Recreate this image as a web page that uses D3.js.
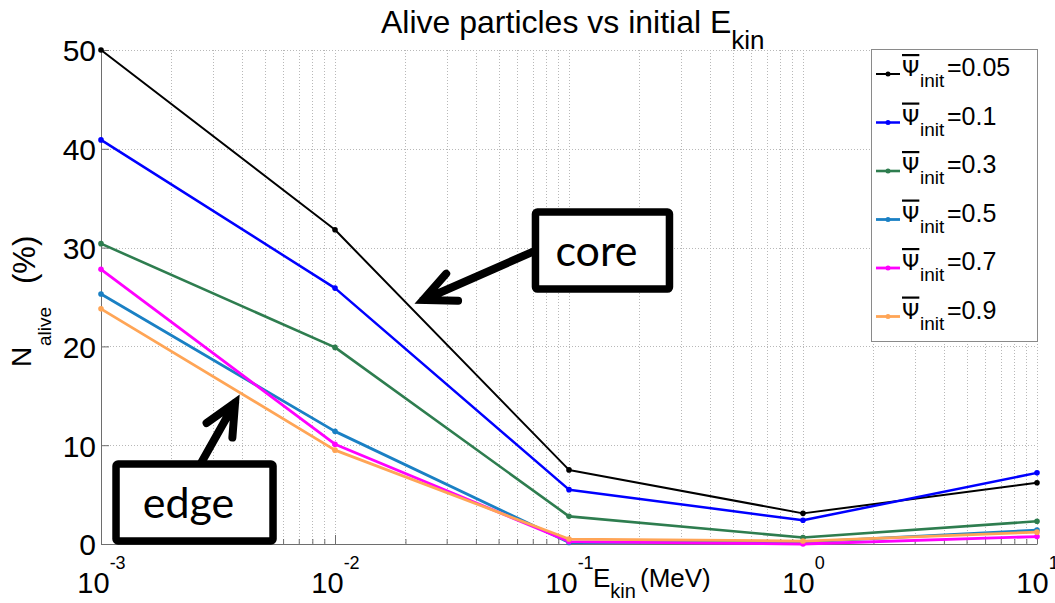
<!DOCTYPE html>
<html>
<head>
<meta charset="utf-8">
<script src="https://cdn.jsdelivr.net/npm/d3@7"></script>
<style>
  html, body { margin: 0; padding: 0; background: #fff; }
  svg { display: block; font-family: "Liberation Sans", Arial, Helvetica, sans-serif; }
</style>
</head>
<body>
<svg id="chart" width="1055" height="603"></svg>
<script>
// ---------- data ----------
const energies = [1e-3, 1e-2, 1e-1, 1, 10];            // E_kin (MeV)
const psiLabels = ["0.05", "0.1", "0.3", "0.5", "0.7", "0.9"];
const psi005 = [50.0, 31.8, 7.5, 3.1, 6.2];
const psi01  = [40.9, 25.9, 5.5, 2.4, 7.2];
const psi03  = [30.4, 19.9, 2.8, 0.65, 2.3];
const psi05  = [25.3, 11.4, 0.15, 0.2, 1.4];
const psi07  = [27.8, 10.1, 0.25, 0.0, 0.75];
const psi09  = [23.8, 9.5, 0.5, 0.3, 1.2];
const seriesValues = [psi005, psi01, psi03, psi05, psi07, psi09];
const seriesColors = ["#000000", "#0000ff", "#2e7d4f", "#1a80c4", "#ff00ff", "#ffa556"];
const seriesWidths = [2, 2.5, 2.6, 2.8, 2.8, 2.8];
const yTicks = [0, 10, 20, 30, 40, 50];
const xMajorExp = [-3, -2, -1, 0, 1];
// annotations (data coordinates of arrow tips and box centres)
const annotations = [
  { text: "core", cx: 0.139, cy: 29.7, w: 134, h: 77, tipX: 0.0238, tipY: 24.7, tail: "left" },
  { text: "edge", cx: 0.00251, cy: 4.2, w: 157, h: 77, tipX: 0.00374, tipY: 14.3, tail: "top" }
];

// ---------- layout ----------
const L = 101, R = 1037, T = 50, B = 544;
const svg = d3.select("#chart");
const x = d3.scaleLog().domain([1e-3, 10]).range([L, R]);
const y = d3.scaleLinear().domain([0, 50]).range([B, T]);

// minor x ticks
const xAllTicks = [];
for (let e = -3; e < 1; e++) for (let m = 1; m <= 9; m++) xAllTicks.push(m * Math.pow(10, e));
xAllTicks.push(10);

// ---------- grid ----------
const grid = svg.append("g").attr("stroke", "#b8b8b8").attr("stroke-width", 1)
  .attr("stroke-dasharray", "1,2").attr("shape-rendering", "crispEdges");
grid.selectAll("line.v").data(xAllTicks).join("line")
  .attr("x1", d => Math.round(x(d)) + 0.5).attr("x2", d => Math.round(x(d)) + 0.5)
  .attr("y1", T).attr("y2", B);
grid.selectAll("line.h").data(yTicks.filter(d => d > 0)).join("line")
  .attr("x1", L).attr("x2", R)
  .attr("y1", d => Math.round(y(d)) + 0.5).attr("y2", d => Math.round(y(d)) + 0.5);

// ---------- axes ----------
const axisColor = "#6e6e6e";
const yAxis = svg.append("g").attr("transform", `translate(${L},0)`)
  .call(d3.axisLeft(y).tickValues(yTicks).tickSizeInner(-8).tickSizeOuter(0).tickPadding(5));
yAxis.select(".domain").attr("stroke", axisColor);
yAxis.selectAll(".tick line").attr("stroke", axisColor);
yAxis.selectAll(".tick text").attr("fill", "#000").attr("font-size", 30)
  .attr("font-family", "Liberation Sans, Arial, sans-serif").attr("dy", "0.36em");

const xMinor = svg.append("g").attr("transform", `translate(0,${B})`)
  .call(d3.axisBottom(x).tickValues(xAllTicks).tickSizeInner(-5).tickSizeOuter(0).tickFormat(""));
xMinor.select(".domain").attr("stroke", axisColor);
xMinor.selectAll(".tick line").attr("stroke", axisColor);

const xMajor = svg.append("g").attr("transform", `translate(0,${B})`)
  .call(d3.axisBottom(x).tickValues(xMajorExp.map(e => Math.pow(10, e))).tickSizeInner(-9).tickSizeOuter(0).tickFormat(""));
xMajor.select(".domain").remove();
xMajor.selectAll(".tick line").attr("stroke", axisColor);
xMajor.selectAll(".tick text").remove();
xMajor.selectAll(".tick").each(function(d, i) {
  const t = d3.select(this).append("text").attr("fill", "#000")
    .attr("font-family", "Liberation Sans, Arial, sans-serif")
    .attr("text-anchor", "middle").attr("y", 49);
  t.append("tspan").attr("font-size", 29).text("10");
  t.append("tspan").attr("font-size", 18).attr("dy", -24).text(String(xMajorExp[i]));
});

// ---------- series ----------
const line = d3.line().x((d, i) => x(energies[i])).y(d => y(d));
const seriesG = svg.append("g");
seriesValues.forEach((vals, si) => {
  const g = seriesG.append("g");
  g.append("path").datum(vals).attr("d", line).attr("fill", "none")
    .attr("stroke", seriesColors[si]).attr("stroke-width", seriesWidths[si])
    .attr("stroke-linejoin", "round");
  g.selectAll("circle").data(vals).join("circle")
    .attr("cx", (d, i) => x(energies[i])).attr("cy", d => y(d))
    .attr("r", 2.8).attr("fill", seriesColors[si]);
});

// ---------- title ----------
const title = svg.append("text").attr("x", 381).attr("y", 33).attr("font-size", 32).attr("fill", "#000");
title.append("tspan").text("Alive particles vs initial E");
title.append("tspan").attr("font-size", 26).attr("dy", 16).text("kin");

// ---------- axis labels ----------
const xl = svg.append("text").attr("x", 593).attr("y", 587).attr("font-size", 26).attr("fill", "#000");
xl.append("tspan").text("E");
xl.append("tspan").attr("font-size", 20).attr("dy", 11).text("kin");
xl.append("tspan").attr("x", 640).attr("dy", -11).text("(MeV)");

const yl = svg.append("g").attr("transform", "translate(31,0) rotate(-90)")
  .append("text").attr("font-size", 28).attr("fill", "#000");
yl.append("tspan").attr("x", -367).attr("y", 0).text("N");
yl.append("tspan").attr("x", -346).attr("dy", 20).attr("font-size", 19).text("alive");
yl.append("tspan").attr("x", -284).attr("dy", -16).attr("font-size", 31).text("(%)");

// ---------- legend ----------
const lg = svg.append("g");
lg.append("rect").attr("x", 871.5).attr("y", 49.5).attr("width", 166).attr("height", 292)
  .attr("fill", "#fff").attr("stroke", "#8a8a8a").attr("stroke-width", 1);
psiLabels.forEach((lab, i) => {
  const cy = 74 + i * 48.5;
  lg.append("line").attr("x1", 876).attr("x2", 900).attr("y1", cy).attr("y2", cy)
    .attr("stroke", seriesColors[i]).attr("stroke-width", seriesWidths[i]);
  lg.append("circle").attr("cx", 888).attr("cy", cy).attr("r", 2.5).attr("fill", seriesColors[i]);
  const t = lg.append("text").attr("y", cy + 2).attr("font-size", 25).attr("fill", "#000");
  t.append("tspan").attr("x", 902).attr("font-family", "DejaVu Sans, sans-serif").attr("font-size", 22)
    .style("text-decoration", "overline").text("Ψ");
  t.append("tspan").attr("x", 920).attr("dy", 11).attr("font-size", 19).text("init");
  t.append("tspan").attr("x", 947).attr("dy", -11).text("=" + lab);
});

// ---------- annotations ----------
const ann = svg.append("g");
annotations.forEach(a => {
  const cx = x(a.cx), cy = y(a.cy);
  const tx = x(a.tipX), ty = y(a.tipY);
  const tailX = a.tail === "left" ? cx - a.w / 2 : cx + 6;
  const tailY = a.tail === "left" ? cy : cy - a.h / 2;
  const ang = Math.atan2(tailY - ty, tailX - tx);
  const hl = 35, spread = 25 * Math.PI / 180;
  const p = d3.path();
  p.moveTo(tailX, tailY); p.lineTo(tx, ty);
  p.moveTo(tx + hl * Math.cos(ang - spread), ty + hl * Math.sin(ang - spread));
  p.lineTo(tx, ty);
  p.lineTo(tx + hl * Math.cos(ang + spread), ty + hl * Math.sin(ang + spread));
  ann.append("path").attr("d", p.toString()).attr("fill", "none").attr("stroke", "#000")
    .attr("stroke-width", 8).attr("stroke-linecap", "round").attr("stroke-linejoin", "miter");
  ann.append("rect").attr("x", cx - a.w / 2).attr("y", cy - a.h / 2).attr("width", a.w).attr("height", a.h)
    .attr("rx", 2).attr("fill", "#fff").attr("stroke", "#000").attr("stroke-width", 7.5)
    .attr("stroke-linejoin", "round");
  ann.append("text").attr("x", cx - 6).attr("y", cy + 15).attr("text-anchor", "middle")
    .attr("font-family", "Lato, 'Open Sans', sans-serif").attr("font-size", 43).attr("fill", "#000")
    .text(a.text);
});
</script>
</body>
</html>
